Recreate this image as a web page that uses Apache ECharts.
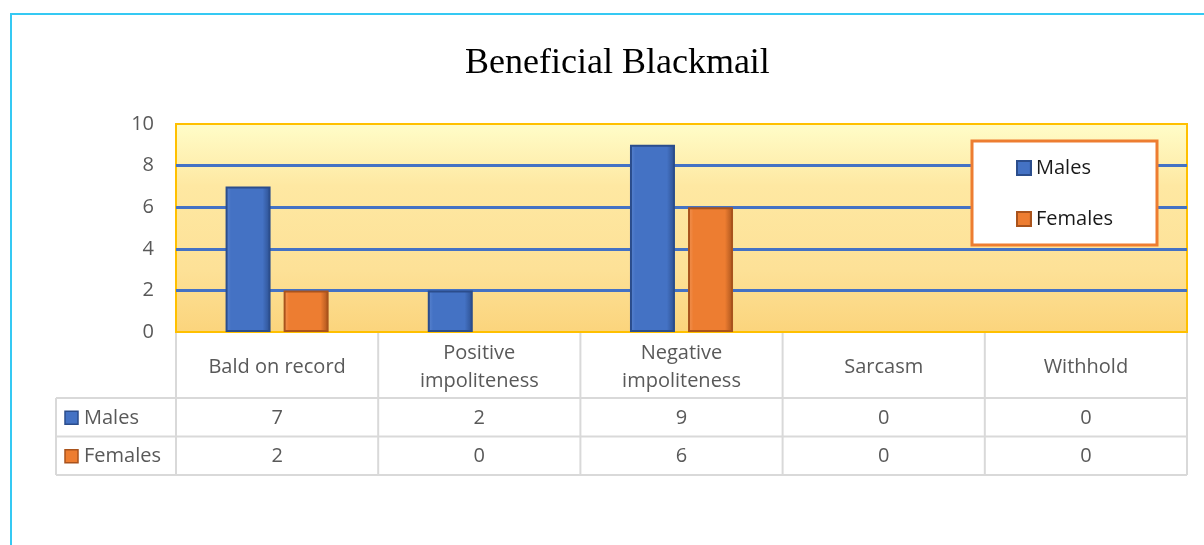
<!DOCTYPE html>
<html>
<head>
<meta charset="utf-8">
<script src="https://cdn.jsdelivr.net/npm/echarts@6/dist/echarts.min.js"></script>
<style>
  html, body { margin: 0; padding: 0; background: #fff; }
  #main { width: 1204px; height: 545px; }
</style>
</head>
<body>
<div id="main"></div>
<script>
  // data
  const categories = ['Bald on record', 'Positive\nimpoliteness', 'Negative\nimpoliteness', 'Sarcasm', 'Withhold']
  const males = [7, 2, 9, 0, 0]
  const females = [2, 0, 6, 0, 0]
  const seriesNames = ['Males', 'Females']
  const yMin = 0
  const yMax = 10
  const yStep = 2

  const blue = '#4472c4'
  const orange = '#ed7d31'
  const textGrey = '#595959'
  const lineGrey = '#d9d9d9'
  const font = 'Open Sans'

  const chart = echarts.init(document.getElementById('main'))

  // bars: skip zero so no flat border line gets drawn
  const barData = arr => arr.map(v => (v === 0 ? null : v))

  // bevel-ish fill for the bars
  const bevel = (light, mid, dark) => ({
    type: 'linear', x: 0, y: 0, x2: 1, y2: 0,
    colorStops: [
      { offset: 0, color: light },
      { offset: 0.12, color: mid },
      { offset: 0.82, color: mid },
      { offset: 1, color: dark }
    ]
  })

  chart.setOption({
    animation: false,
    title: {
      text: 'Beneficial Blackmail',
      left: 460,
      top: 41,
      textStyle: {
        fontFamily: 'Liberation Serif',
        fontWeight: 'normal',
        fontSize: 36,
        color: '#000'
      }
    },
    legend: {
      data: seriesNames,
      orient: 'vertical',
      left: 1011,
      top: 153,
      itemGap: 31,
      itemWidth: 14,
      itemHeight: 14,
      icon: 'rect',
      z: 10,
      textStyle: { fontFamily: font, fontSize: 20, color: '#1a1a1a', padding: [0, 0, 0, 0] }
    },
    grid: {
      left: 176,
      right: 17,
      top: 124,
      bottom: 213,
      show: true,
      borderColor: '#ffc000',
      borderWidth: 2,
      backgroundColor: {
        type: 'linear', x: 0, y: 0, x2: 0, y2: 1,
        colorStops: [
          { offset: 0, color: '#fffdc9' },
          { offset: 0.3, color: '#fee8a2' },
          { offset: 0.7, color: '#fde197' },
          { offset: 1, color: '#fbd47c' }
        ]
      }
    },
    xAxis: {
      type: 'category',
      data: categories,
      axisLine: { show: false },
      axisTick: { show: false },
      axisLabel: {
        interval: 0,
        margin: 35,
        verticalAlign: 'middle',
        lineHeight: 28,
        fontFamily: font,
        fontSize: 20,
        color: textGrey
      }
    },
    yAxis: {
      type: 'value',
      min: yMin,
      max: yMax,
      interval: yStep,
      axisLine: { show: false },
      axisTick: { show: false },
      axisLabel: { margin: 22, fontFamily: font, fontSize: 20, color: textGrey },
      splitLine: {
        showMinLine: false,
        showMaxLine: false,
        lineStyle: { color: blue, width: 3 }
      }
    },
    series: [
      {
        name: seriesNames[0],
        type: 'bar',
        barWidth: 45,
        barGap: '29%',
        data: barData(males),
        itemStyle: { color: bevel('#5b85d0', blue, '#2c4f8f'), borderColor: '#2b4d8c', borderWidth: 2 }
      },
      {
        name: seriesNames[1],
        type: 'bar',
        barWidth: 45,
        data: barData(females),
        itemStyle: { color: bevel('#f39556', orange, '#a9531c'), borderColor: '#a9531c', borderWidth: 2 }
      }
    ]
  })

  // data table + frame + legend box, placed from the axis scales
  const centers = categories.map((c, i) => chart.convertToPixel({ xAxisIndex: 0 }, i))
  const step = centers[1] - centers[0]
  const plotLeft = centers[0] - step / 2
  const plotRight = centers[centers.length - 1] + step / 2
  const plotBottom = chart.convertToPixel({ yAxisIndex: 0 }, yMin)
  const tableLeft = 56
  const headerBottom = plotBottom + 66
  const rowH = 38.5
  const rows = [
    { name: seriesNames[0], values: males, color: blue, border: '#2b4d8c' },
    { name: seriesNames[1], values: females, color: orange, border: '#a9531c' }
  ]

  const graphics = []
  const line = (x1, y1, x2, y2) => graphics.push({
    type: 'line', z: 5, silent: true,
    shape: { x1, y1, x2, y2 },
    style: { stroke: lineGrey, lineWidth: 2 }
  })

  // frame of the whole figure
  graphics.push({
    type: 'rect', z: 0, silent: true,
    shape: { x: 11, y: 14, width: 1400, height: 800 },
    style: { fill: null, stroke: '#35c9f3', lineWidth: 2 }
  })
  // legend box
  graphics.push({
    type: 'rect', z: 9, silent: true,
    shape: { x: 972, y: 141, width: 185, height: 104 },
    style: { fill: '#fff', stroke: orange, lineWidth: 3 }
  })

  const tableBottom = headerBottom + rowH * rows.length
  // column lines
  for (let i = 0; i <= categories.length; i++) {
    const x = plotLeft + step * i
    line(x, plotBottom + 1, x, tableBottom)
  }
  line(tableLeft, headerBottom, tableLeft, tableBottom)
  for (let r = 0; r <= rows.length; r++) {
    const y = headerBottom + rowH * r
    line(tableLeft, y, plotRight, y)
  }

  rows.forEach((row, r) => {
    const cy = headerBottom + rowH * r + rowH / 2 + 1
    graphics.push({
      type: 'rect', z: 6, silent: true,
      shape: { x: tableLeft + 9, y: cy - 7, width: 13, height: 13 },
      style: { fill: row.color, stroke: row.border, lineWidth: 1.5 }
    })
    graphics.push({
      type: 'text', z: 6, silent: true,
      x: tableLeft + 28, y: cy,
      style: { text: row.name, fontFamily: font, fontSize: 20, fill: textGrey, verticalAlign: 'middle' }
    })
    row.values.forEach((v, i) => {
      graphics.push({
        type: 'text', z: 6, silent: true,
        x: centers[i], y: cy,
        style: { text: String(v), fontFamily: font, fontSize: 20, fill: textGrey, align: 'center', verticalAlign: 'middle' }
      })
    })
  })

  chart.setOption({ graphic: graphics })
</script>
</body>
</html>
